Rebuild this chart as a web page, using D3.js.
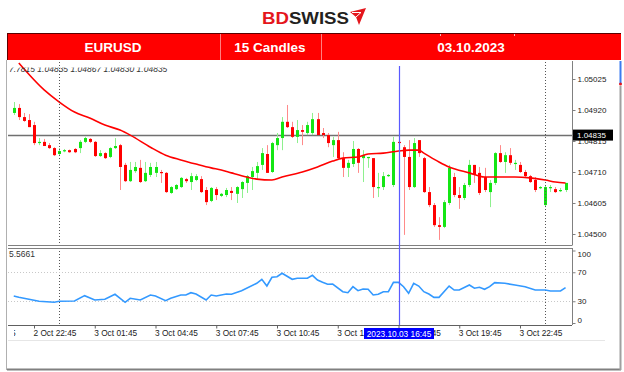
<!DOCTYPE html>
<html><head><meta charset="utf-8">
<script src="https://cdn.jsdelivr.net/npm/d3@7"></script>
<style>html,body{margin:0;padding:0;background:#fff;overflow:hidden}svg{display:block;font-family:"Liberation Sans",Arial,sans-serif}</style>
</head><body><svg id="c" width="624" height="372"></svg>
<script>
// ---------- data ----------
const headerCells = ["EURUSD", "15 Candles", "03.10.2023"];
const infoText = "7.7815  1.04835 1.04867 1.04830 1.04835";
const oscInfo = "5.5661";
const openP = [1.04910,1.04927,1.04896,1.04886,1.04869,1.04808,1.04812,1.04801,1.04791,1.04771,
1.04781,1.04784,1.04788,1.04791,1.04812,1.04822,1.04812,1.04764,1.04774,1.04761,
1.04791,1.04801,1.04734,1.04679,1.04713,1.04724,1.04679,1.04700,1.04707,1.04710,
1.04707,1.04639,1.04652,1.04659,1.04686,1.04676,1.04683,1.04686,1.04649,1.04612,
1.04652,1.04629,1.04632,1.04646,1.04636,1.04652,1.04673,1.04693,1.04707,1.04734,
1.04771,1.04710,1.04801,1.04825,1.04880,1.04862,1.04829,1.04852,1.04842,1.04842,
1.04889,1.04842,1.04835,1.04801,1.04818,1.04757,1.04724,1.04737,1.04788,1.04757,
1.04757,1.04757,1.04656,1.04659,1.04696,1.04666,1.04812,1.04794,1.04761,1.04659,
1.04818,1.04757,1.04642,1.04598,1.04530,1.04524,1.04605,1.04693,1.04632,1.04622,
1.04666,1.04734,1.04707,1.04693,1.04642,1.04673,1.04774,1.04744,1.04767,1.04737,
1.04734,1.04710,1.04696,1.04683,1.04656,1.04598,1.04656,1.04652,1.04646,1.04649];
const highP = [1.04947,1.04940,1.04910,1.04906,1.04880,1.04825,1.04822,1.04808,1.04794,1.04791,
1.04788,1.04786,1.04791,1.04818,1.04829,1.04825,1.04815,1.04784,1.04777,1.04794,
1.04825,1.04805,1.04741,1.04744,1.04744,1.04751,1.04744,1.04741,1.04744,1.04717,
1.04710,1.04662,1.04669,1.04693,1.04690,1.04707,1.04703,1.04696,1.04659,1.04659,
1.04659,1.04639,1.04656,1.04659,1.04662,1.04679,1.04700,1.04727,1.04744,1.04791,
1.04801,1.04812,1.04842,1.04896,1.04937,1.04880,1.04886,1.04869,1.04880,1.04910,
1.04910,1.04859,1.04842,1.04829,1.04846,1.04777,1.04751,1.04815,1.04791,1.04784,
1.04761,1.04757,1.04707,1.04710,1.04703,1.04829,1.04818,1.04801,1.04818,1.04825,
1.04818,1.04761,1.04659,1.04605,1.04557,1.04615,1.04734,1.04707,1.04659,1.04673,
1.04751,1.04734,1.04727,1.04724,1.04683,1.04777,1.04801,1.04777,1.04791,1.04751,
1.04744,1.04717,1.04700,1.04693,1.04662,1.04666,1.04666,1.04659,1.04656,1.04673];
const lowP = [1.04903,1.04886,1.04880,1.04862,1.04801,1.04801,1.04798,1.04788,1.04764,1.04767,
1.04777,1.04775,1.04774,1.04774,1.04808,1.04808,1.04761,1.04761,1.04754,1.04757,
1.04788,1.04649,1.04676,1.04676,1.04707,1.04673,1.04676,1.04693,1.04693,1.04673,
1.04639,1.04636,1.04649,1.04656,1.04673,1.04649,1.04679,1.04639,1.04598,1.04608,
1.04615,1.04625,1.04625,1.04615,1.04605,1.04622,1.04639,1.04649,1.04683,1.04717,
1.04707,1.04707,1.04784,1.04784,1.04859,1.04825,1.04808,1.04801,1.04835,1.04835,
1.04835,1.04825,1.04794,1.04761,1.04751,1.04693,1.04693,1.04727,1.04707,1.04676,
1.04724,1.04622,1.04625,1.04649,1.04693,1.04659,1.04801,1.04497,1.04649,1.04656,
1.04761,1.04639,1.04591,1.04524,1.04480,1.04520,1.04598,1.04625,1.04585,1.04615,
1.04659,1.04673,1.04632,1.04642,1.04591,1.04666,1.04741,1.04707,1.04734,1.04717,
1.04707,1.04690,1.04673,1.04642,1.04652,1.04591,1.04642,1.04639,1.04642,1.04642];
const closeP = [1.04927,1.04896,1.04883,1.04862,1.04808,1.04812,1.04798,1.04791,1.04767,1.04781,
1.04784,1.04777,1.04777,1.04812,1.04825,1.04812,1.04764,1.04774,1.04757,1.04791,
1.04798,1.04727,1.04679,1.04717,1.04727,1.04676,1.04707,1.04727,1.04727,1.04707,
1.04642,1.04659,1.04666,1.04690,1.04679,1.04696,1.04696,1.04642,1.04608,1.04656,
1.04632,1.04636,1.04649,1.04639,1.04659,1.04676,1.04696,1.04713,1.04730,1.04774,
1.04707,1.04808,1.04825,1.04880,1.04862,1.04829,1.04852,1.04846,1.04869,1.04889,
1.04835,1.04835,1.04808,1.04818,1.04757,1.04724,1.04741,1.04788,1.04741,1.04767,
1.04761,1.04659,1.04659,1.04696,1.04700,1.04812,1.04808,1.04761,1.04659,1.04808,
1.04774,1.04642,1.04598,1.04530,1.04524,1.04608,1.04724,1.04632,1.04622,1.04666,
1.04734,1.04700,1.04639,1.04649,1.04673,1.04774,1.04744,1.04767,1.04741,1.04741,
1.04710,1.04696,1.04676,1.04649,1.04659,1.04659,1.04659,1.04642,1.04649,1.04673];
const maIndex = [1,6,9,12,15,18,21,23,27,30,33,36,39,41,43,46,48,51,53,57,60,63,65,68,70,73,76,78,80,81,84,86,90,93,95,99,102,105,107,109];
const maValue = [1.05079,1.04988,1.04947,1.04913,1.04893,1.04869,1.04852,1.04835,1.04794,1.04767,1.04751,1.04737,1.04724,1.04717,1.04707,1.04693,1.04686,1.04683,1.04693,1.04710,1.04727,1.04747,1.04757,1.04761,1.04771,1.04774,1.04781,1.04784,1.04784,1.04774,1.04744,1.04727,1.04707,1.04693,1.04693,1.04693,1.04690,1.04683,1.04676,1.04673];
const oscIndex = [0,1,3,5,8,9,12,14,16,18,20,22,23,25,27,28,30,31,33,34,35,36,38,39,40,42,43,45,48,49,50,51,52,53,55,56,58,59,60,61,62,63,65,66,67,68,69,70,71,72,73,74,75,76,77,78,79,80,81,82,83,84,86,87,88,90,91,92,93,94,95,97,99,101,103,105,106,108,109];
const oscValue = [37.2,35.4,32.7,29.9,28.6,29.9,30.3,37.7,31.7,32.7,39.6,28.6,34.1,31.7,38.6,37.2,30.8,34.1,38.6,38.6,41.8,40,31.7,38.6,37.2,40,39.6,44.6,54.8,60.3,51,63,63.9,68.6,60.3,61.7,61.7,65.8,59.3,56.1,53.4,53.8,43.2,41.8,50.1,44.6,46.9,46.5,38.6,39.6,43.2,43.2,56.1,56.1,50.1,41,54.8,51,43.2,40,35.4,35.4,51,45.5,45.5,52.4,47.9,49.2,46.5,50.1,55.6,54.8,52.4,50.1,45.5,45.5,44.1,44.1,48.7];
const priceTicks = [1.05025,1.04920,1.04815,1.04710,1.04605,1.04500];
const oscTicks = [100,70,30,0];
const oscLevels = [70,30];
const timeTickIndex = [-8,4,16,28,40,52,64,76,88,100];
const timeTickLabels = ["2 Oct 19:45","2 Oct 22:45","3 Oct 01:45","3 Oct 04:45","3 Oct 07:45","3 Oct 10:45","3 Oct 13:45","3 Oct 16:45","3 Oct 19:45","3 Oct 22:45"];
const currentPrice = 1.04835;
const cursorIndex = 76;
const cursorLabel = "2023.10.03 16:45";
const daySeparators = [9,105];

// ---------- layout ----------
const L = 8, R = 572;
const svg = d3.select("#c");
const x = d3.scaleLinear().domain([4,100]).range([34,520]);
const y = d3.scaleLinear().domain([1.04500,1.05025]).range([234,79]);
const yo = d3.scaleLinear().domain([0,100]).range([323,250.5]);

const defs = svg.append("defs");
defs.append("clipPath").attr("id","cm").append("rect").attr("x",L).attr("y",62).attr("width",R-L).attr("height",183);
defs.append("clipPath").attr("id","co").append("rect").attr("x",L).attr("y",249).attr("width",R-L).attr("height",75);
defs.append("clipPath").attr("id","ci").append("rect").attr("x",L).attr("y",67.5).attr("width",300).attr("height",8);

// ---------- logo ----------
const logo = svg.append("g");
const lt = logo.append("text").attr("x",262).attr("y",24).attr("font-size",17).attr("font-weight","bold")
  .attr("textLength",87).attr("lengthAdjust","spacingAndGlyphs");
lt.append("tspan").attr("fill","#e4161c").text("BD");
lt.append("tspan").attr("fill","#231f20").text("SWISS");
logo.append("path").attr("d","M350,12 L366,8 L359,25 L356,17 Z").attr("fill","#e4161c");
logo.append("path").attr("d","M352,12.5 L361,12.5 L356,17").attr("fill","none").attr("stroke","#fff").attr("stroke-width",1);

// ---------- header bar ----------
svg.append("rect").attr("x",7).attr("y",33).attr("width",614).attr("height",27).attr("fill","#ff0000");
svg.append("line").attr("x1",7).attr("x2",621).attr("y1",33.5).attr("y2",33.5).attr("stroke","#5a0000").attr("stroke-width",1);
svg.append("line").attr("x1",7.5).attr("x2",7.5).attr("y1",33).attr("y2",60).attr("stroke","#600000").attr("stroke-width",1);
[220,321].forEach(v=>svg.append("line").attr("x1",v+0.5).attr("x2",v+0.5).attr("y1",34).attr("y2",60).attr("stroke","#ff8080").attr("stroke-width",1));
[440,514].forEach(v=>svg.append("line").attr("x1",v+0.5).attr("x2",v+0.5).attr("y1",34).attr("y2",36).attr("stroke","#ffb0b0").attr("stroke-width",1));
const cellCenters = [113,270,471];
svg.selectAll("text.hd").data(headerCells).enter().append("text").attr("class","hd")
  .attr("x",(d,i)=>cellCenters[i]).attr("y",52).attr("text-anchor","middle")
  .attr("font-size",13.5).attr("font-weight","bold").attr("fill","#fff").text(d=>d);

// ---------- frame ----------
svg.append("line").attr("x1",6.5).attr("x2",6.5).attr("y1",60).attr("y2",370).attr("stroke","#b0b0b0");
svg.append("line").attr("x1",7).attr("x2",621).attr("y1",369.5).attr("y2",369.5).attr("stroke","#808080").attr("stroke-width",2);
svg.append("line").attr("x1",620.5).attr("x2",620.5).attr("y1",86).attr("y2",370).attr("stroke","#a0a0a0").attr("stroke-width",2);
svg.append("line").attr("x1",620.5).attr("x2",620.5).attr("y1",61).attr("y2",84).attr("stroke","#3a7bf0").attr("stroke-width",2);
svg.append("circle").attr("cx",620.5).attr("cy",84).attr("r",1.5).attr("fill","#e4161c");
svg.append("line").attr("x1",8).attr("x2",605).attr("y1",340.5).attr("y2",340.5).attr("stroke","#e6e6e6");

// ---------- main panel ----------
const main = svg.append("g").attr("clip-path","url(#cm)");
svg.selectAll("line.sep").data(daySeparators).enter().append("line").attr("class","sep")
  .attr("x1",d=>Math.round(x(d))+0.5).attr("x2",d=>Math.round(x(d))+0.5).attr("y1",62).attr("y2",325)
  .attr("stroke","#555").attr("stroke-dasharray","1,2");
main.append("line").attr("x1",L).attr("x2",R).attr("y1",Math.round(y(currentPrice))+0.5).attr("y2",Math.round(y(currentPrice))+0.5)
  .attr("stroke","#707070").attr("stroke-width",1.3);
const idx = d3.range(openP.length);
const up = i => closeP[i] >= openP[i];
main.selectAll("line.wk").data(idx).enter().append("line").attr("class","wk")
  .attr("x1",i=>Math.round(x(i))+0.5).attr("x2",i=>Math.round(x(i))+0.5)
  .attr("y1",i=>y(highP[i])).attr("y2",i=>y(lowP[i]))
  .attr("stroke",i=>up(i)?"#8ef08e":"#ff8a8a").attr("stroke-width",1);
main.selectAll("rect.bd").data(idx).enter().append("rect").attr("class","bd")
  .attr("x",i=>Math.round(x(i))-1).attr("width",3)
  .attr("y",i=>Math.min(y(openP[i]),y(closeP[i])))
  .attr("height",i=>Math.max(1.2,Math.abs(y(openP[i])-y(closeP[i]))))
  .attr("fill",i=>up(i)?"#14e614":"#ff0000");
main.append("path").datum(d3.range(maIndex.length))
  .attr("d",d3.line().x(k=>x(maIndex[k])).y(k=>y(maValue[k])).curve(d3.curveMonotoneX))
  .attr("fill","none").attr("stroke","#ff0000").attr("stroke-width",1.6);
svg.append("text").attr("clip-path","url(#ci)").attr("x",9).attr("y",71.5).attr("font-size",8.5)
  .attr("fill","#333").attr("font-style","italic").text(infoText);

// price axis
const pa = svg.append("g").attr("transform",`translate(${R+0.5},0)`)
  .call(d3.axisRight(y).tickValues(priceTicks).tickFormat(d3.format(".5f")).tickSize(3).tickPadding(2));
pa.select(".domain").attr("d","M0,61V245.5").attr("stroke","#808080");
pa.selectAll("line").attr("stroke","#808080");
pa.selectAll("text").attr("font-size",8).attr("font-family","Liberation Sans, Arial, sans-serif").attr("fill","#222");
const cpY = y(currentPrice);
svg.append("rect").attr("x",573).attr("y",cpY-5.5).attr("width",40).attr("height",11).attr("fill","#000");
svg.append("text").attr("x",577).attr("y",cpY+3).attr("font-size",8).attr("fill","#fff").text(d3.format(".5f")(currentPrice));

svg.append("line").attr("x1",L).attr("x2",R).attr("y1",245.5).attr("y2",245.5).attr("stroke","#808080");
svg.append("line").attr("x1",L).attr("x2",R).attr("y1",248.5).attr("y2",248.5).attr("stroke","#808080");

// ---------- oscillator panel ----------
const osc = svg.append("g").attr("clip-path","url(#co)");
osc.selectAll("line.lv").data(oscLevels).enter().append("line").attr("class","lv")
  .attr("x1",L).attr("x2",R).attr("y1",d=>Math.round(yo(d))+0.5).attr("y2",d=>Math.round(yo(d))+0.5)
  .attr("stroke","#c8c8c8").attr("stroke-dasharray","1,2");
osc.append("path").datum(d3.range(oscIndex.length))
  .attr("d",d3.line().x(k=>x(oscIndex[k])).y(k=>yo(oscValue[k])))
  .attr("fill","none").attr("stroke","#3399ff").attr("stroke-width",1.6);
svg.append("text").attr("x",9).attr("y",257).attr("font-size",8.5).attr("fill","#333").text(oscInfo);
const oa = svg.append("g").attr("transform",`translate(${R+0.5},0)`)
  .call(d3.axisRight(yo).tickValues(oscTicks).tickSize(3).tickPadding(2));
oa.select(".domain").attr("d","M0,248V325").attr("stroke","#808080");
oa.selectAll("line").attr("stroke","#808080");
oa.selectAll("text").attr("font-size",8).attr("font-family","Liberation Sans, Arial, sans-serif").attr("fill","#222")
  .attr("dy",d=>d===100?"0.8em":d===0?"-0.1em":"0.32em");

// cursor line
svg.append("line").attr("x1",Math.round(x(cursorIndex))+0.5).attr("x2",Math.round(x(cursorIndex))+0.5)
  .attr("y1",66).attr("y2",325).attr("stroke","#5a5aff").attr("stroke-width",1.2);

// ---------- time axis ----------
const ta = svg.append("g").attr("transform","translate(0,325.5)");
ta.call(d3.axisBottom(x).tickValues(timeTickIndex).tickFormat((d,i)=>timeTickLabels[i]).tickSize(3).tickPadding(2));
ta.select(".domain").attr("d",`M${L},0H${R}`).attr("stroke","#606060");
ta.selectAll("line").attr("stroke","#606060");
ta.selectAll("text").attr("text-anchor","start").attr("dx","-1").attr("font-size",8.3)
  .attr("font-family","Liberation Sans, Arial, sans-serif").attr("fill","#222");
// left-edge label is cut off by the panel edge
defs.append("clipPath").attr("id","cxl").append("rect").attr("x",13.5 - x(-8)).attr("y",-10).attr("width",600).attr("height",30);
ta.selectAll(".tick").filter(d=>x(d)<L).select("text").attr("clip-path","url(#cxl)");
ta.selectAll(".tick").filter(d=>x(d)<L).select("line").remove();

// cursor label
const cx = Math.round(x(cursorIndex));
svg.append("rect").attr("x",cx-35).attr("y",328).attr("width",70).attr("height",11).attr("fill","#0000ff");
svg.append("text").attr("x",cx).attr("y",336.5).attr("text-anchor","middle").attr("font-size",8.3).attr("fill","#fff").text(cursorLabel);
</script></body></html>
